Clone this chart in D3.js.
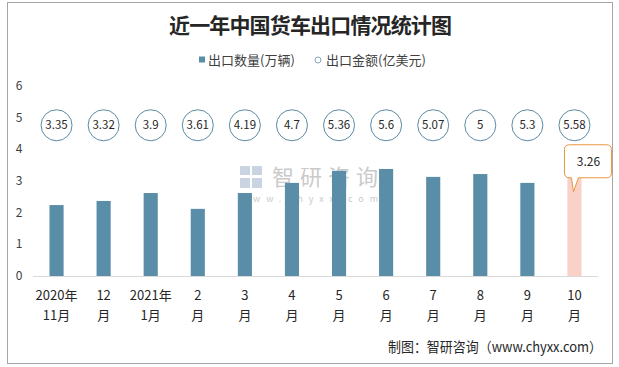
<!DOCTYPE html>
<html><head><meta charset="utf-8">
<script src="https://cdn.jsdelivr.net/npm/d3@7"></script>
<style>
html,body{margin:0;padding:0;background:#fff;}
svg{display:block;font-family:"Noto Sans CJK SC","Noto Sans",sans-serif;}
</style></head>
<body>
<svg id="c" width="619" height="367"></svg>
<script>
const categories = ["2020年11月","12月","2021年1月","2月","3月","4月","5月","6月","7月","8月","9月","10月"];
const labelLine1 = ["2020年","12","2021年","2","3","4","5","6","7","8","9","10"];
const labelLine2 = ["11月","月","1月","月","月","月","月","月","月","月","月","月"];
const volume = [2.24, 2.37, 2.62, 2.12, 2.62, 2.94, 3.32, 3.38, 3.13, 3.22, 2.94, 3.26];
const amount = [3.35, 3.32, 3.9, 3.61, 4.19, 4.7, 5.36, 5.6, 5.07, 5, 5.3, 5.58];
const yTicks = [0, 1, 2, 3, 4, 5, 6];
const circleLevel = 4.76;
const highlightIndex = 11;

const svg = d3.select("#c");

// frame
svg.append("rect").attr("x",7.5).attr("y",2.5).attr("width",605).attr("height",361)
  .attr("fill","#fff").attr("stroke","#a6a6a6").attr("stroke-width",1);

const x = d3.scaleBand().domain(categories).range([33,598]).paddingInner(0.7).paddingOuter(0.35);
const y = d3.scaleLinear().domain([0,6]).range([276,86]);

// title
svg.append("text").attr("x",169).attr("y",33)
  .attr("font-size",21).attr("font-weight","bold").attr("fill","#262626")
  .attr("textLength",283).attr("lengthAdjust","spacing")
  .text("近一年中国货车出口情况统计图");

// legend
svg.append("rect").attr("x",199).attr("y",56.5).attr("width",6).attr("height",6).attr("fill","#5a8ea8");
svg.append("text").attr("x",208).attr("y",64.5).attr("font-size",13).attr("fill","#404040").text("出口数量(万辆)");
svg.append("circle").attr("cx",318).attr("cy",60).attr("r",3).attr("fill","#fff").attr("stroke","#7fa6bc").attr("stroke-width",1);
svg.append("text").attr("x",326).attr("y",64.5).attr("font-size",13).attr("fill","#404040").text("出口金额(亿美元)");

// watermark
const wm = svg.append("g").attr("opacity",0.55);
wm.append("rect").attr("x",240).attr("y",166).attr("width",10).attr("height",9).attr("fill","#9fb0cc");
wm.append("rect").attr("x",252).attr("y",166).attr("width",10).attr("height",9).attr("fill","#9fb0cc");
wm.append("rect").attr("x",240).attr("y",178).attr("width",10).attr("height",10).attr("fill","#9fb0cc");
wm.append("rect").attr("x",252).attr("y",178).attr("width",10).attr("height",10).attr("fill","#9fb0cc");
wm.append("text").attr("x",272).attr("y",185).attr("font-size",22).attr("fill","#a0a0a0")
  .attr("textLength",106).attr("lengthAdjust","spacing").text("智研咨询");
wm.append("text").attr("x",240).attr("y",202).attr("font-size",9).attr("fill","#a0a0a0")
  .attr("textLength",138).attr("lengthAdjust","spacing").text("www.chyxx.com");

// y tick labels
svg.selectAll(".yt").data(yTicks).enter().append("text")
  .attr("x",19).attr("y",d=>y(d)+4).attr("text-anchor","middle")
  .attr("font-size",12).attr("fill","#404040").text(d=>d);

// axis line
svg.append("line").attr("x1",33).attr("x2",598).attr("y1",y(0)+0.5).attr("y2",y(0)+0.5)
  .attr("stroke","#d9d9d9").attr("stroke-width",1);

// bars
svg.selectAll(".bar").data(volume).enter().append("rect")
  .attr("x",(d,i)=>x(categories[i])).attr("width",x.bandwidth())
  .attr("y",d=>y(d)).attr("height",d=>y(0)-y(d))
  .attr("fill",(d,i)=>i===highlightIndex?"#f9d1c7":"#5a8ea8");

// circles with amount
const cg = svg.selectAll(".amt").data(amount).enter().append("g")
  .attr("transform",(d,i)=>`translate(${x(categories[i])+x.bandwidth()/2},${y(circleLevel)})`);
cg.append("circle").attr("r",15.5).attr("fill","#fff").attr("stroke","#5b8aa3").attr("stroke-width",1);
cg.append("text").attr("y",4).attr("text-anchor","middle").attr("font-size",11.5).attr("fill","#262626").text(d=>d);

// callout for highlighted bar
const hx = x(categories[highlightIndex]) + x.bandwidth()/2;
const hy = y(volume[highlightIndex]);
const bx0 = hx - 10, bx1 = hx + 37, by0 = hy - 28, by1 = hy + 5, rr = 5;
const tipX = hx - 1, tipY = hy + 19;
const p = d3.path();
p.moveTo(bx0+rr, by0);
p.lineTo(bx1-rr, by0); p.quadraticCurveTo(bx1, by0, bx1, by0+rr);
p.lineTo(bx1, by1-rr); p.quadraticCurveTo(bx1, by1, bx1-rr, by1);
p.lineTo(hx+4, by1); p.lineTo(tipX, tipY); p.lineTo(hx-3, by1);
p.lineTo(bx0+rr, by1); p.quadraticCurveTo(bx0, by1, bx0, by1-rr);
p.lineTo(bx0, by0+rr); p.quadraticCurveTo(bx0, by0, bx0+rr, by0);
p.closePath();
svg.append("path").attr("d",p.toString()).attr("fill","#fff").attr("stroke","#e8953f").attr("stroke-width",1);
svg.append("text").attr("x",(bx0+bx1)/2+0.5).attr("y",(by0+by1)/2+4.5).attr("text-anchor","middle")
  .attr("font-size",12).attr("fill","#262626").text(volume[highlightIndex]);

// x labels
const xl = svg.selectAll(".xl").data(categories).enter().append("g")
  .attr("transform",d=>`translate(${x(d)+x.bandwidth()/2},0)`);
xl.append("text").attr("y",300).attr("text-anchor","middle").attr("font-size",13).attr("fill","#262626").text((d,i)=>labelLine1[i]);
xl.append("text").attr("y",320).attr("text-anchor","middle").attr("font-size",13).attr("fill","#262626").text((d,i)=>labelLine2[i]);

// footer
svg.append("text").attr("x",388).attr("y",352).attr("font-size",14).attr("fill","#262626")
  .attr("textLength",214).attr("lengthAdjust","spacingAndGlyphs")
  .text("制图：智研咨询（www.chyxx.com）");
</script>
</body></html>
